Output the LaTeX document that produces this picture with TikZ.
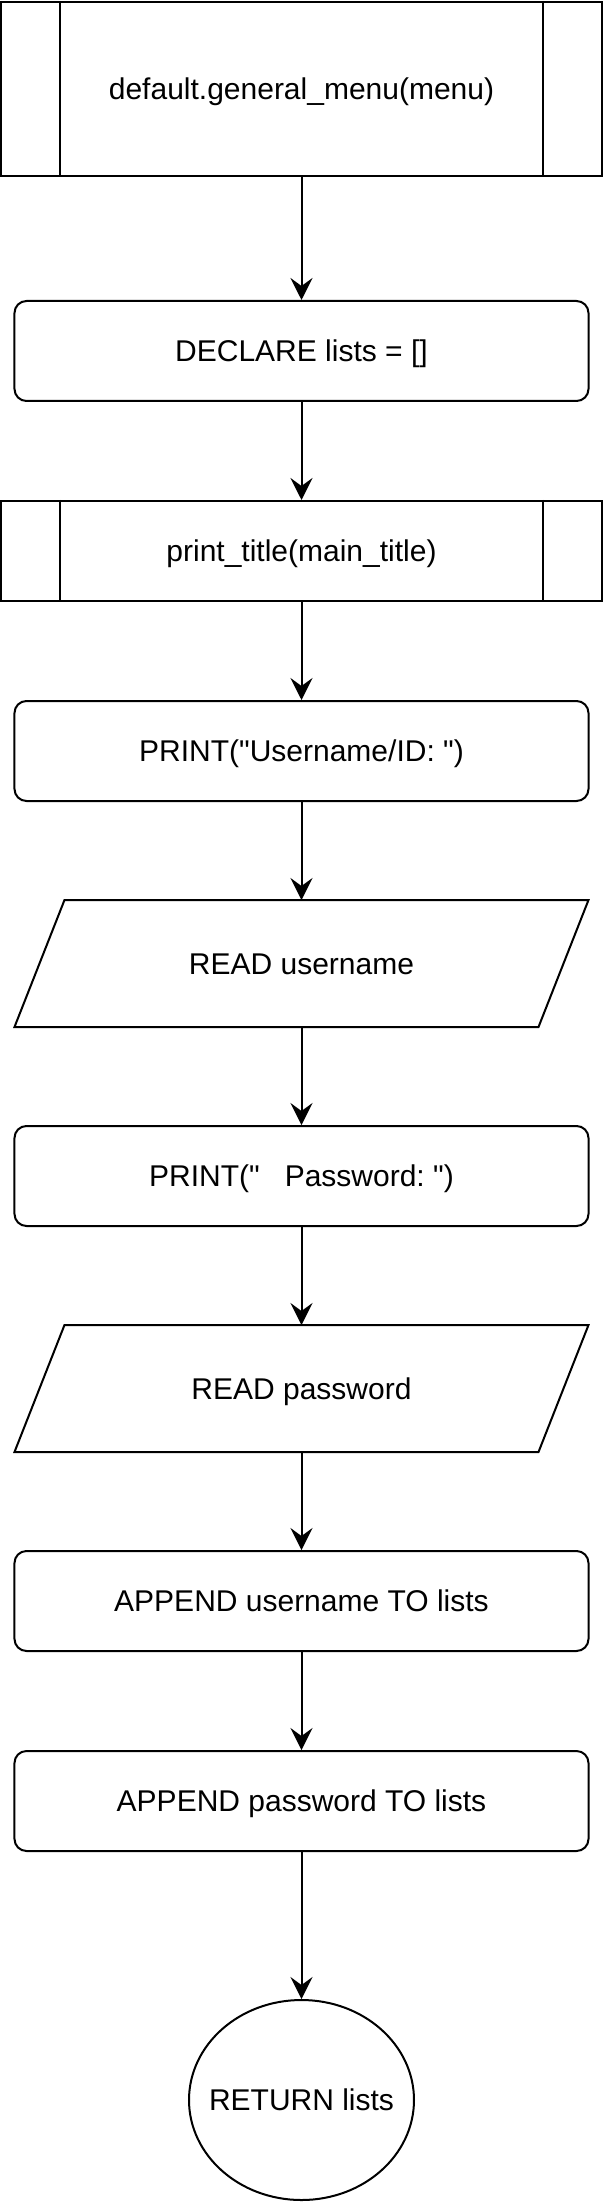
\documentclass[tikz,border=0pt]{standalone}
\usepackage{fontspec}
\setmainfont{Liberation Sans}[Ligatures=TeXOff]
\usetikzlibrary{positioning,shapes.geometric,arrows.meta}

\begin{document}
\begin{tikzpicture}[
    node distance=49pt,
    base/.style={draw, line width=1pt, align=center, inner sep=0pt,
        text height=10.7pt, text depth=0pt,
        font=\fontsize{15pt}{18pt}\selectfont},
    sub/.style={base, rectangle, minimum width=300.5pt},
    proc/.style={base, rectangle, rounded corners=6pt, minimum width=287pt, minimum height=50pt},
    io/.style={base, draw=none, rectangle, minimum width=286pt, minimum height=62.5pt},
    term/.style={base, ellipse, inner xsep=-20pt, inner ysep=-20pt, minimum width=112.5pt, minimum height=100pt},
    arr/.style={-{Stealth[length=11pt,width=11pt,inset=4pt]}, line width=1pt}
]
\useasboundingbox (-150.75pt,0) rectangle (150.75pt,-1101.5pt);

\node[sub, minimum height=87pt] at (0,-44.5pt) (menu) {default.general\_menu(menu)};
\node[proc, below=61.5pt of menu] (decl) {DECLARE lists = []};
\node[sub, minimum height=50pt, below=of decl] (ttl) {print\_title(main\_title)};
\node[proc, below=of ttl] (pu) {PRINT("Username/ID:\ ")};
\node[io, below=of pu] (ru) {READ username};
\node[proc, below=of ru] (pp) {PRINT("\ \ \ Password:\ ")};
\node[io, below=of pp] (rp) {READ password};
\node[proc, below=of rp] (au) {APPEND username TO lists};
\node[proc, below=of au] (ap) {APPEND password TO lists};
\node[term, below=73.5pt of ap] (ret) {RETURN lists};

% side bars of the subroutine boxes
\foreach \n in {menu, ttl} {
    \draw[line width=1pt] ([xshift=30pt]\n.north west) -- ([xshift=30pt]\n.south west);
    \draw[line width=1pt] ([xshift=-30pt]\n.north east) -- ([xshift=-30pt]\n.south east);
}

% input parallelograms
\foreach \n in {ru, rp}
    \draw[line width=1pt] ([xshift=25pt]\n.north west) -- (\n.north east)
        -- ([xshift=-25pt]\n.south east) -- (\n.south west) -- cycle;

\foreach \a/\b in {menu/decl, decl/ttl, ttl/pu, pu/ru, ru/pp, pp/rp, rp/au, au/ap, ap/ret}
    \draw[arr] (\a) -- (\b);
\end{tikzpicture}
\end{document}
